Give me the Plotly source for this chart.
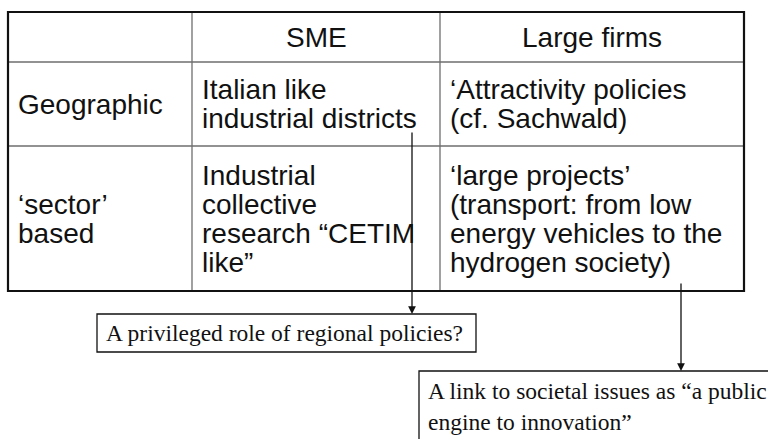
import plotly.graph_objects as go

# ---- content ----
col_headers = ["SME", "Large firms"]
row_labels = [["Geographic"], ["‘sector’", "based"]]
sme_cells = [["Italian like", "industrial districts"],
             ["Industrial", "collective", "research “CETIM", "like”"]]
large_cells = [["‘Attractivity policies", "(cf. Sachwald)"],
               ["‘large projects’", "(transport: from low", "energy vehicles to the", "hydrogen society)"]]
note_regional = ["A privileged role of regional policies?"]
note_societal = ["A link to societal issues as “a public", "engine to innovation”"]

# ---- layout geometry (pixels) ----
W, H = 768, 439
col_x = [8, 192, 440, 744]
row_y = [12, 62, 146, 291]
line_h = 29
pad_x = 8
sans = "Liberation Sans, Arial, sans-serif"
serif = "Liberation Serif, Times New Roman, serif"
fs_table = 28
fs_note = 23.5

fig = go.Figure()
shapes = []
annotations = []

# table inner lines
for x in col_x[1:-1]:
    shapes.append(dict(type="line", x0=x, x1=x, y0=row_y[0], y1=row_y[-1],
                       line=dict(color="#6e6e6e", width=1.3)))
for y in row_y[1:-1]:
    shapes.append(dict(type="line", x0=col_x[0], x1=col_x[-1], y0=y, y1=y,
                       line=dict(color="#6e6e6e", width=1.3)))
# outer border
shapes.append(dict(type="rect", x0=col_x[0], x1=col_x[-1], y0=row_y[0], y1=row_y[-1],
                   line=dict(color="#111111", width=2.2)))


def cell_lines(lines, x, row, anchor="left"):
    mid = (row_y[row] + row_y[row + 1]) / 2
    n = len(lines)
    for i, t in enumerate(lines):
        y = mid + (i - (n - 1) / 2) * line_h
        annotations.append(dict(x=x, y=y, xref="x", yref="y", text=t, showarrow=False,
                                xanchor=anchor, yanchor="middle",
                                font=dict(family=sans, size=fs_table, color="#111111")))


# headers
for j, h in enumerate(col_headers):
    cx = (col_x[j + 1] + col_x[j + 2]) / 2
    cell_lines([h], cx, 0, anchor="center")
# rows
for r in range(2):
    cell_lines(row_labels[r], col_x[0] + pad_x, r + 1)
    cell_lines(sme_cells[r], col_x[1] + pad_x, r + 1)
    cell_lines(large_cells[r], col_x[2] + pad_x, r + 1)

# note boxes
box1 = dict(x0=97, x1=476, y0=314, y1=352)
box2 = dict(x0=419, x1=790, y0=371, y1=460)
for b in (box1, box2):
    shapes.append(dict(type="rect", **b, line=dict(color="#111111", width=1.3),
                       fillcolor="white", layer="below"))

annotations.append(dict(x=box1["x0"] + 7, y=(box1["y0"] + box1["y1"]) / 2, xref="x", yref="y",
                        text=note_regional[0], showarrow=False, xanchor="left", yanchor="middle",
                        font=dict(family=serif, size=fs_note, color="#111111")))
for i, t in enumerate(note_societal):
    annotations.append(dict(x=box2["x0"] + 7, y=391 + i * 31, xref="x", yref="y",
                            text=t, showarrow=False, xanchor="left", yanchor="middle",
                            font=dict(family=serif, size=fs_note, color="#111111")))

# arrows
for (x, y0, y1) in [(412, 131, box1["y0"]), (681, 282, box2["y0"])]:
    annotations.append(dict(x=x, y=y1, ax=x, ay=y0, xref="x", yref="y", axref="x", ayref="y",
                            text="", showarrow=True, arrowhead=2, arrowsize=1.2,
                            arrowwidth=1.3, arrowcolor="#111111", standoff=0))

fig.update_layout(
    width=W, height=H, margin=dict(l=0, r=0, t=0, b=0),
    paper_bgcolor="white", plot_bgcolor="white",
    xaxis=dict(range=[0, W], visible=False, fixedrange=True),
    yaxis=dict(range=[H, 0], visible=False, fixedrange=True),
    shapes=shapes, annotations=annotations, showlegend=False,
)
fig.write_html("out.html", config={"displayModeBar": False},
               post_script="document.body.style.margin='0';document.body.style.overflow='hidden';")
